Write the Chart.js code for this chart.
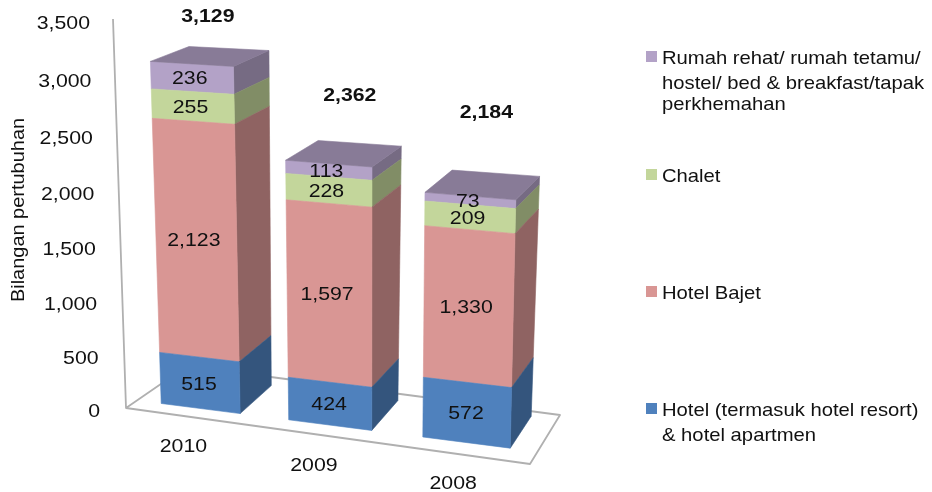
<!DOCTYPE html>
<html><head><meta charset="utf-8">
<style>html,body{margin:0;padding:0;background:#fff}canvas{display:block}</style>
<script src="https://cdn.jsdelivr.net/npm/chart.js@4/dist/chart.umd.js"></script>
</head><body><canvas id="c" width="932" height="492"></canvas>
<script>
const categories = ['2010', '2009', '2008'];
const hotelValues = [515, 424, 572];
const bajetValues = [2123, 1597, 1330];
const chaletValues = [255, 228, 209];
const rumahValues = [236, 113, 73];
const seriesNames = ['Hotel (termasuk hotel resort) & hotel apartmen', 'Hotel Bajet', 'Chalet', 'Rumah rehat/ rumah tetamu/ hostel/ bed & breakfast/tapak perkhemahan'];
const axisTitle = 'Bilangan pertubuhan';

const FONT = '"Liberation Sans", Arial, sans-serif';
const TXT = '#111';
const SZ = 19;
// projective map of the chart plane onto the tilted front plane
const BL=[138,400.5], BR=[537,451.6], TR=[548,38.5], TL=[124.5,16.5];
const H=(function(){
  const [x0,y0]=BL,[x1,y1]=BR,[x2,y2]=TR,[x3,y3]=TL;
  const sx=x0-x1+x2-x3, sy=y0-y1+y2-y3, dx1=x1-x2, dx2=x3-x2, dy1=y1-y2, dy2=y3-y2;
  const den=dx1*dy2-dx2*dy1, g=(sx*dy2-dx2*sy)/den, h=(dx1*sy-sx*dy1)/den;
  return {a:x1-x0+g*x1,b:x3-x0+h*x3,c:x0,d:y1-y0+g*y1,e:y3-y0+h*y3,f:y0,g,h};
})();
function project(chart,px,py){
  const A=chart.chartArea, u=(px-A.left)/(A.right-A.left);
  let v=(A.bottom-py)/(A.bottom-A.top);
  if(v>0) v-=0.0085*Math.sin(Math.PI*Math.sqrt(Math.min(v,1)));
  const w=H.g*u+H.h*v+1;
  return [(H.a*u+H.b*v+H.c)/w,(H.d*u+H.e*v+H.f)/w];
}
function back(p){
  return [p[0]+44-0.036*p[0]-0.012*(p[1]-60), p[1]-(11.2+0.0103*p[0]+0.0346*p[1])];
}
function shade(hex,k){
  const n=parseInt(hex.slice(1),16);
  return 'rgb('+[(n>>16)&255,(n>>8)&255,n&255].map(c=>Math.round(c*k)).join(',')+')';
}
function poly(ctx,pts,fill){
  ctx.beginPath();pts.forEach((p,i)=>i?ctx.lineTo(p[0],p[1]):ctx.moveTo(p[0],p[1]));ctx.closePath();
  ctx.fillStyle=fill;ctx.fill();ctx.strokeStyle=fill;ctx.lineWidth=0.6;ctx.stroke();
}
function corners(chart,el){
  const hw=el.width/2;
  return {bl:project(chart,el.x-hw,el.base),br:project(chart,el.x+hw,el.base),
          tr:project(chart,el.x+hw,el.y),tl:project(chart,el.x-hw,el.y)};
}
function text(ctx,s,x,y,size,bold,align,sx){
  ctx.save();ctx.translate(x,y);ctx.scale(sx||1.12,1);
  ctx.font=(bold?'bold ':'')+size+'px '+FONT;ctx.fillStyle=TXT;ctx.textAlign=align||'center';ctx.textBaseline='middle';
  ctx.fillText(s,0,0);ctx.restore();
}
const legendLines=[['Rumah rehat/ rumah tetamu/','hostel/ bed & breakfast/tapak','perkhemahan'],['Chalet'],['Hotel Bajet'],['Hotel (termasuk hotel resort)','& hotel apartmen']];
const legendLineY=[[58,83,104],[176],[293],[410,435]];
const legendSeries=[3,2,1,0];
const totalOffsets=[[16,-47],[21,-68],[16,-83]];
const categoryLabelOffsets=[[-17,38],[-16,41],[-13,41]];
const seriesLabelShift=[-1,-2.5,-2.5,-2.5];

const bar3d={
  id:'bar3d',
  beforeDatasetsDraw(chart){
    const ctx=chart.ctx;
    ctx.save();ctx.strokeStyle='#b0b0b0';ctx.lineWidth=1.8;ctx.lineJoin='round';
    ctx.beginPath();ctx.moveTo(113,19);ctx.lineTo(126,408);ctx.lineTo(530,464);ctx.lineTo(560,415);ctx.lineTo(187,366);ctx.lineTo(126,408);ctx.stroke();
    ctx.restore();
  },
  beforeDatasetDraw(chart,args){
    args.meta.data.forEach(el=>{
      el.draw=function(c){
        const q=corners(chart,this), col=this.options.backgroundColor;
        poly(c,[q.br,back(q.br),back(q.tr),q.tr],shade(col,0.66));
        poly(c,[q.bl,q.br,q.tr,q.tl],col);
      };
    });
  },
  afterDatasetsDraw(chart){
    const ctx=chart.ctx, n=chart.data.datasets.length, A=chart.chartArea;
    const last=chart.getDatasetMeta(n-1);
    last.data.forEach(el=>{
      const q=corners(chart,el);
      poly(ctx,[q.tl,q.tr,back(q.tr),back(q.tl)],shade(el.options.backgroundColor,0.76));
    });
    for(let d=0;d<n;d++){
      chart.getDatasetMeta(d).data.forEach((el,i)=>{
        const q=corners(chart,el);
        const x=(q.bl[0]+q.br[0]+q.tr[0]+q.tl[0])/4, y=(q.bl[1]+q.br[1]+q.tr[1]+q.tl[1])/4;
        text(ctx,chart.data.datasets[d].data[i].toLocaleString('en-US'),x+seriesLabelShift[d],y+1.5,SZ);
      });
    }
    last.data.forEach((el,i)=>{
      const q=corners(chart,el);
      const total=chart.data.datasets.reduce((s,ds)=>s+ds.data[i],0);
      text(ctx,total.toLocaleString('en-US'),(q.tl[0]+q.tr[0])/2+totalOffsets[i][0],(q.tl[1]+q.tr[1])/2+totalOffsets[i][1],SZ,true);
    });
    const ys=chart.scales.y;
    ys.ticks.forEach((t,i)=>{
      const v=(A.bottom-ys.getPixelForTick(i))/(A.bottom-A.top);
      const warped=v/(1-0.05*v)*0.95;
      text(ctx,t.label,100-10*v,A.bottom-warped*(A.bottom-A.top)+0.5,SZ,false,'right');
    });
    const xs=chart.scales.x;
    categories.forEach((c,i)=>{
      const p=project(chart,xs.getPixelForTick(i),A.bottom);
      text(ctx,c,p[0]+categoryLabelOffsets[i][0],p[1]+categoryLabelOffsets[i][1],SZ);
    });
    ctx.save();ctx.translate(19,210);ctx.rotate(-Math.PI/2);
    text(ctx,axisTitle,0,0,SZ,false,'center',1.05);ctx.restore();
    legendSeries.forEach((s,k)=>{
      const col=chart.data.datasets[s].backgroundColor;
      const y=legendLineY[k][0];
      ctx.fillStyle=col;ctx.fillRect(646,y-7,11,11);
      legendLines[k].forEach((ln,j)=>text(ctx,ln,662,legendLineY[k][j]+0.5,SZ,false,'left',1.065));
    });
  }
};

new Chart(document.getElementById('c'),{
  type:'bar',
  data:{labels:categories,datasets:[
    {label:seriesNames[0],data:hotelValues,backgroundColor:'#4f81bd',clip:false},
    {label:seriesNames[1],data:bajetValues,backgroundColor:'#d99694',clip:false},
    {label:seriesNames[2],data:chaletValues,backgroundColor:'#c3d69b',clip:false},
    {label:seriesNames[3],data:rumahValues,backgroundColor:'#b3a2c7',clip:false}
  ]},
  options:{
    responsive:false,animation:false,
    layout:{padding:{left:126,right:381,top:23,bottom:81}},
    datasets:{bar:{categoryPercentage:0.625,barPercentage:1}},
    plugins:{legend:{display:false},tooltip:{enabled:false}},
    scales:{
      x:{stacked:true,grid:{display:false},border:{display:false},ticks:{display:false},afterFit:s=>{s.height=0}},
      y:{stacked:true,min:0,max:3500,grid:{display:false},border:{display:false},
         ticks:{display:false,stepSize:500,callback:v=>v.toLocaleString('en-US')},afterFit:s=>{s.width=0}}
    }
  },
  plugins:[bar3d]
});
</script></body></html>
